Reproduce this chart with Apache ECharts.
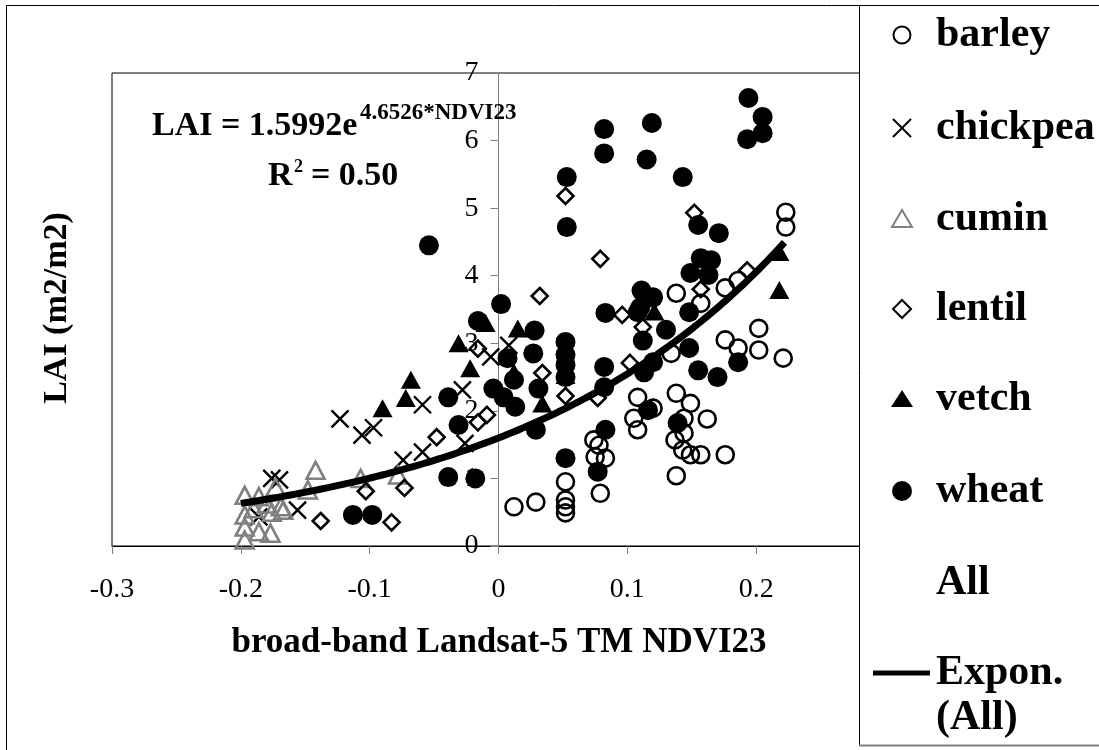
<!DOCTYPE html>
<html><head><meta charset="utf-8">
<script src="https://cdn.jsdelivr.net/npm/echarts@6/dist/echarts.min.js"></script>
<style>html,body{margin:0;padding:0;background:#fff}#c{width:1099px;height:750px}</style>
</head><body><div id="c"></div>
<script>
// ---- data (NDVI23, LAI) ----
const barley = [
[0.012,0.58],[0.029,0.65],[0.052,0.95],[0.052,0.68],[0.052,0.58],[0.052,0.49],
[0.074,1.57],[0.078,1.49],[0.075,1.32],[0.083,1.30],[0.079,0.78],
[0.108,2.20],[0.105,1.89],[0.108,1.72],[0.120,2.04],
[0.138,2.26],[0.149,2.11],[0.144,1.89],[0.137,1.57],[0.144,1.67],[0.143,1.42],[0.149,1.35],[0.157,1.35],[0.138,1.04],[0.162,1.88],[0.176,1.35],
[0.176,3.05],[0.186,2.93],[0.202,3.22],[0.202,2.90],[0.221,2.78],
[0.223,4.94],[0.223,4.72],[0.138,3.74],[0.157,3.59],[0.176,3.82],[0.186,3.93],[0.134,2.85]
];
const chickpea = [
[-0.186,0.43],[-0.176,1.00],[-0.170,0.98],[-0.156,0.53],[-0.123,1.88],[-0.106,1.64],[-0.097,1.75],
[-0.074,1.27],[-0.059,1.39],[-0.059,2.09],[-0.028,2.31],[-0.026,1.52],[-0.006,2.80],[0.008,2.97]
];
const cumin = [
[-0.197,0.75],[-0.197,0.46],[-0.197,0.28],[-0.197,0.09],[-0.190,0.55],[-0.186,0.73],[-0.186,0.21],
[-0.177,0.19],[-0.176,0.50],[-0.180,0.62],[-0.173,0.87],[-0.169,0.58],[-0.167,0.53],
[-0.148,0.83],[-0.142,1.12],[-0.107,1.00],[-0.078,1.05]
];
const lentil = [
[-0.138,0.37],[-0.103,0.81],[-0.083,0.35],[-0.073,0.86],[-0.048,1.61],[-0.016,1.83],[-0.009,1.94],
[-0.016,2.92],[0.032,3.70],[0.034,2.56],[0.052,2.22],[0.052,5.18],[0.077,2.19],[0.079,4.25],
[0.096,3.42],[0.102,2.71],[0.112,3.24],[0.152,4.93],[0.157,3.80],[0.193,4.08]
];
const vetch = [
[-0.090,2.04],[-0.072,2.19],[-0.068,2.46],[-0.031,3.00],[-0.022,2.63],[-0.010,3.30],
[0.012,2.57],[0.015,3.22],[0.034,2.11],[0.052,2.53],[0.121,3.47],[0.218,4.35],[0.218,3.79]
];
const wheat = [
[-0.113,0.46],[-0.098,0.46],[-0.054,4.45],[-0.039,2.20],[-0.039,1.02],[-0.031,1.79],[-0.018,1.00],
[-0.016,3.33],[-0.004,2.33],[0.002,3.58],[0.004,2.20],[0.007,2.78],[0.012,2.46],[0.013,2.06],
[0.027,2.85],[0.028,3.19],[0.029,1.72],[0.031,2.33],
[0.052,3.02],[0.052,2.83],[0.052,2.68],[0.052,2.50],[0.052,1.30],[0.053,4.72],[0.053,5.46],
[0.077,1.10],[0.082,6.17],[0.082,5.81],[0.082,2.65],[0.082,2.35],[0.083,3.45],[0.083,1.72],
[0.108,3.46],[0.110,3.53],[0.111,3.78],[0.112,3.04],[0.113,2.57],[0.115,5.72],[0.116,2.01],[0.119,6.26],[0.120,3.68],[0.120,2.72],
[0.130,3.20],[0.139,1.82],[0.143,5.46],[0.148,3.46],[0.148,2.93],[0.149,4.04],[0.155,4.75],[0.155,2.60],[0.157,4.26],
[0.163,4.01],[0.165,4.23],[0.170,2.50],[0.171,4.63],[0.186,2.72],[0.193,6.02],[0.194,6.63],[0.205,6.35],[0.205,6.11]
];
// exponential trendline as printed on the chart: LAI = 1.5992 e^(4.6526*NDVI23)
const trendA = 1.5992;
const trendB = 4.6526;
const trendRange = [-0.2, 0.222];
const legendNames = ['barley','chickpea','cumin','lentil','vetch','wheat','All'];
const xAxisRange = [-0.3, 0.3];
const yAxisRange = [0, 7];

const trend = [];
for (let i = 0; i <= 60; i++) {
  const x = trendRange[0] + (trendRange[1] - trendRange[0]) * i / 60;
  trend.push([x, trendA * Math.exp(trendB * x)]);
}

const SERIF = '"Liberation Serif","Times New Roman",serif';
const crossPath = 'path://M0,0L20,20M20,0L0,20';

const GRID = { left: 112, right: 214, top: 73, bottom: 204 };
const plotW = 1099 - GRID.left - GRID.right;
// y axis sits at NDVI23 = 0: shift it from the grid's left edge to that position
const yAxisOffset = -plotW * (0 - xAxisRange[0]) / (xAxisRange[1] - xAxisRange[0]);

const chart = echarts.init(document.getElementById('c'));
const txt = (t, x, y, size, extra) => Object.assign({
  type: 'text', z: 120, silent: true,
  style: { text: t, x: x, y: y, fill: '#000', fontFamily: SERIF, fontSize: size, fontWeight: 'bold',
           align: 'left', verticalAlign: 'middle' }
}, extra || {});

const legendY = [35, 128, 219, 309, 399, 491, 583];
const LX = 902, TX = 936;

chart.setOption({
  animation: false,
  backgroundColor: '#fff',
  grid: Object.assign({ show: true, borderColor: '#000', borderWidth: 1 }, GRID),
  xAxis: {
    type: 'value', min: xAxisRange[0], max: xAxisRange[1], interval: 0.1,
    axisLine: { show: true, onZero: false, lineStyle: { color: '#000', width: 1 } },
    axisTick: { show: true, length: 8, lineStyle: { color: '#808080' } },
    axisLabel: { fontFamily: SERIF, fontSize: 28, color: '#000', margin: 30,
      formatter: v => (Math.round(v * 10) / 10).toString() },
    splitLine: { show: false }
  },
  yAxis: {
    type: 'value', min: yAxisRange[0], max: yAxisRange[1], interval: 1,
    offset: yAxisOffset,
    axisLine: { show: true, onZero: false, lineStyle: { color: '#808080', width: 1 } },
    axisTick: { show: true, length: 8, lineStyle: { color: '#808080' } },
    axisLabel: { fontFamily: SERIF, fontSize: 28, color: '#000', margin: 20 },
    splitLine: { show: false }
  },
  series: [
    { name: legendNames[0], type: 'scatter', data: barley, symbol: 'circle', symbolSize: 17,
      itemStyle: { color: 'rgba(0,0,0,0)', borderColor: '#000', borderWidth: 2.6, opacity: 1 } },
    { name: legendNames[1], type: 'scatter', data: chickpea, symbol: crossPath, symbolSize: 17,
      itemStyle: { color: 'rgba(0,0,0,0)', borderColor: '#000', borderWidth: 2.4, opacity: 1 } },
    { name: legendNames[2], type: 'scatter', data: cumin, symbol: 'triangle', symbolSize: [18, 17],
      itemStyle: { color: 'rgba(0,0,0,0)', borderColor: '#808080', borderWidth: 2.6, opacity: 1 } },
    { name: legendNames[3], type: 'scatter', data: lentil, symbol: 'diamond', symbolSize: [16, 16],
      itemStyle: { color: 'rgba(0,0,0,0)', borderColor: '#000', borderWidth: 2.6, opacity: 1 } },
    { name: legendNames[4], type: 'scatter', data: vetch, symbol: 'triangle', symbolSize: [20, 18],
      itemStyle: { color: '#000', opacity: 1 } },
    { name: legendNames[5], type: 'scatter', data: wheat, symbol: 'circle', symbolSize: 20,
      itemStyle: { color: '#000', opacity: 1 } },
    { name: 'Expon. (All)', type: 'line', data: trend, smooth: true, showSymbol: false, symbol: 'none',
      lineStyle: { color: '#000', width: 7 }, z: 5 }
  ],
  graphic: [
    { type: 'rect', z: -10, silent: true, shape: { x: 6.5, y: 5.5, width: 1200, height: 800 },
      style: { fill: 'none', stroke: '#000', lineWidth: 1 } },
    { type: 'rect', z: 100, silent: true, shape: { x: 859.5, y: 5.5, width: 300, height: 740 },
      style: { fill: '#fff', stroke: '#000', lineWidth: 1 } },
    { type: 'line', z: 101, silent: true, shape: { x1: 859, y1: 745.5, x2: 1099, y2: 745.5 },
      style: { stroke: '#808080', lineWidth: 2 } },
    // legend markers
    { type: 'circle', z: 110, silent: true, shape: { cx: LX, cy: legendY[0], r: 8.5 },
      style: { fill: 'none', stroke: '#000', lineWidth: 2 } },
    { type: 'polyline', z: 110, silent: true, shape: { points: [[LX-9, legendY[1]-9],[LX+9, legendY[1]+9]] },
      style: { stroke: '#000', lineWidth: 2 } },
    { type: 'polyline', z: 110, silent: true, shape: { points: [[LX+9, legendY[1]-9],[LX-9, legendY[1]+9]] },
      style: { stroke: '#000', lineWidth: 2 } },
    { type: 'polygon', z: 110, silent: true, shape: { points: [[LX, legendY[2]-9],[LX+10, legendY[2]+8],[LX-10, legendY[2]+8]] },
      style: { fill: 'none', stroke: '#808080', lineWidth: 2 } },
    { type: 'polygon', z: 110, silent: true, shape: { points: [[LX, legendY[3]-9],[LX+9, legendY[3]],[LX, legendY[3]+9],[LX-9, legendY[3]]] },
      style: { fill: 'none', stroke: '#000', lineWidth: 2 } },
    { type: 'polygon', z: 110, silent: true, shape: { points: [[LX, legendY[4]-9],[LX+11, legendY[4]+8],[LX-11, legendY[4]+8]] },
      style: { fill: '#000' } },
    { type: 'circle', z: 110, silent: true, shape: { cx: LX, cy: legendY[5], r: 10 },
      style: { fill: '#000' } },
    { type: 'line', z: 110, silent: true, shape: { x1: 873, y1: 673, x2: 930, y2: 673 },
      style: { stroke: '#000', lineWidth: 5 } },
    txt(legendNames[0], TX, legendY[0], 42),
    txt(legendNames[1], TX, legendY[1], 42),
    txt(legendNames[2], TX, legendY[2], 42),
    txt(legendNames[3], TX, legendY[3], 42),
    txt(legendNames[4], TX, legendY[4], 42),
    txt(legendNames[5], TX, legendY[5], 42),
    txt(legendNames[6], TX, legendY[6], 42),
    txt('Expon.', TX, 673, 42),
    txt('(All)', TX, 718, 42),
    // axis titles
    { type: 'text', z: 50, silent: true,
      style: { text: 'broad-band Landsat-5 TM NDVI23', x: 499, y: 643, fill: '#000', fontFamily: SERIF,
               fontSize: 35, fontWeight: 'bold', align: 'center', verticalAlign: 'middle' } },
    { type: 'text', z: 50, silent: true, x: 57, y: 308, rotation: Math.PI / 2,
      style: { text: 'LAI (m2/m2)', x: 0, y: 0, fill: '#000', fontFamily: SERIF, fontSize: 34, fontWeight: 'bold',
               align: 'center', verticalAlign: 'middle' } },
    // equation
    txt('LAI = 1.5992e', 152, 126, 34, { z: 50 }),
    txt('4.6526*NDVI23', 360, 113, 23, { z: 50 }),
    txt('R', 268, 176, 34, { z: 50 }),
    txt('2', 294, 167, 18, { z: 50 }),
    txt('= 0.50', 311, 176, 34, { z: 50 })
  ]
});
</script>
</body></html>
